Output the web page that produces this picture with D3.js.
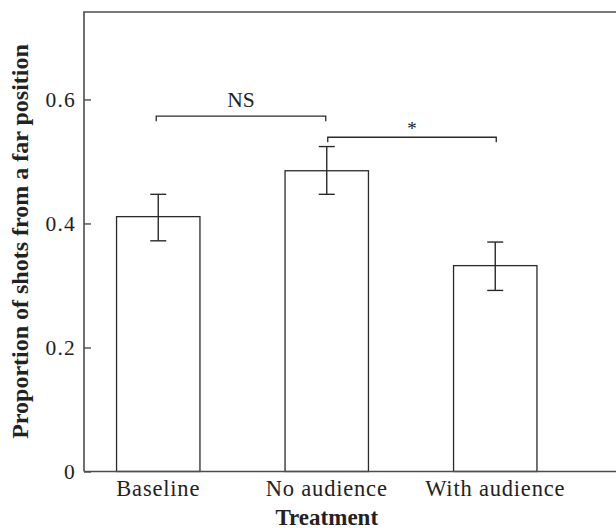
<!DOCTYPE html>
<html>
<head>
<meta charset="utf-8">
<script src="https://cdn.jsdelivr.net/npm/d3@7"></script>
<style>
  html, body { margin: 0; padding: 0; background: #fff; }
  svg { display: block; }
  text { font-family: "Liberation Serif", "DejaVu Serif", serif; fill: #222; }
</style>
</head>
<body>
<svg id="chart" width="616" height="528"></svg>
<script>
// ---- data ----
const categories = ["Baseline", "No audience", "With audience"];
const means = [0.411, 0.485, 0.332];
const errLower = [0.372, 0.447, 0.292];
const errUpper = [0.447, 0.524, 0.370];
const yTicks = [0, 0.2, 0.4, 0.6];
const comparisons = [
  { from: "Baseline", to: "No audience", level: 0.573, label: "NS" },
  { from: "No audience", to: "With audience", level: 0.539, label: "*" }
];
const xTitle = "Treatment";
const yTitle = "Proportion of shots from a far position";

// ---- layout ----
const W = 616, H = 528;
const plotLeft = 84, plotTop = 12, plotBottom = 471.5;
const FONT = "Liberation Serif";
const svg = d3.select("#chart");

const y = d3.scaleLinear().domain([0, 0.741]).range([plotBottom, plotTop]);
const x = d3.scaleBand().domain(categories).range([74, 579.5])
  .paddingInner(0.505).paddingOuter(0.2525);
const cx = c => x(c) + x.bandwidth() / 2;

// frame (left and top)
const frameColor = "#4d4d4d";
svg.append("line").attr("x1", plotLeft).attr("x2", plotLeft).attr("y1", plotTop).attr("y2", plotBottom)
  .attr("stroke", frameColor).attr("stroke-width", 1.6);
svg.append("line").attr("x1", plotLeft - 0.8).attr("x2", W).attr("y1", plotTop).attr("y2", plotTop)
  .attr("stroke", frameColor).attr("stroke-width", 1.6);

// bars
svg.append("g").selectAll("rect").data(categories).join("rect")
  .attr("x", d => x(d))
  .attr("y", (d, i) => y(means[i]))
  .attr("width", x.bandwidth())
  .attr("height", (d, i) => y(0) - y(means[i]))
  .attr("fill", "#fff")
  .attr("stroke", "#2a2a2a")
  .attr("stroke-width", 1.3);

// base axis line
svg.append("line").attr("x1", plotLeft).attr("x2", W).attr("y1", plotBottom).attr("y2", plotBottom)
  .attr("stroke", frameColor).attr("stroke-width", 1.6);

// error bars
const capHalf = 8;
const eg = svg.append("g").attr("stroke", "#2a2a2a").attr("stroke-width", 1.4);
categories.forEach((c, i) => {
  const xc = cx(c);
  eg.append("line").attr("x1", xc).attr("x2", xc).attr("y1", y(errUpper[i])).attr("y2", y(errLower[i]));
  eg.append("line").attr("x1", xc - capHalf).attr("x2", xc + capHalf).attr("y1", y(errUpper[i])).attr("y2", y(errUpper[i]));
  eg.append("line").attr("x1", xc - capHalf).attr("x2", xc + capHalf).attr("y1", y(errLower[i])).attr("y2", y(errLower[i]));
});

// y axis (inward ticks)
const yAxis = d3.axisLeft(y).tickValues(yTicks)
  .tickFormat(d => d === 0 ? "0" : d3.format(".1f")(d))
  .tickSizeInner(-7).tickSizeOuter(0).tickPadding(8);
const yg = svg.append("g").attr("transform", `translate(${plotLeft},0)`).call(yAxis);
yg.select(".domain").remove();
yg.selectAll(".tick line").attr("stroke", frameColor).attr("stroke-width", 1.4);
yg.selectAll(".tick text").attr("font-size", 21.5).attr("font-family", FONT).attr("fill", "#222")
  .attr("letter-spacing", 1.2).attr("dy", "0.34em");

// x axis labels
const xAxis = d3.axisBottom(x).tickSize(0).tickPadding(0);
const xg = svg.append("g").attr("transform", `translate(0,${plotBottom})`).call(xAxis);
xg.select(".domain").remove();
xg.selectAll(".tick text").attr("font-size", 22.5).attr("font-family", FONT).attr("fill", "#222")
  .attr("letter-spacing", 0.8).attr("y", 24.5).attr("dy", null);

// comparison brackets
const bg = svg.append("g");
comparisons.forEach((cmp, k) => {
  const x1 = cx(cmp.from) + (k === 0 ? -2 : 1);
  const x2 = cx(cmp.to) + (k === 0 ? -1 : 1);
  const yy = y(cmp.level);
  bg.append("path")
    .attr("d", `M${x1},${yy + 5}V${yy}H${x2}V${yy + 5}`)
    .attr("fill", "none").attr("stroke", "#2a2a2a").attr("stroke-width", 1.3);
  bg.append("text")
    .attr("x", (x1 + x2) / 2)
    .attr("y", cmp.label === "*" ? yy - 2.5 : yy - 8.7)
    .attr("text-anchor", "middle")
    .attr("font-size", cmp.label === "*" ? 19 : 21.5)
    .text(cmp.label);
});

// axis titles
svg.append("text")
  .attr("x", cx(categories[1]))
  .attr("y", 524.5)
  .attr("text-anchor", "middle")
  .attr("font-weight", "bold")
  .attr("font-size", 23)
  .text(xTitle);

svg.append("text")
  .attr("transform", `translate(28,${241.5}) rotate(-90)`)
  .attr("text-anchor", "middle")
  .attr("font-weight", "bold")
  .attr("font-size", 24)
  .text(yTitle);
</script>
</body>
</html>
